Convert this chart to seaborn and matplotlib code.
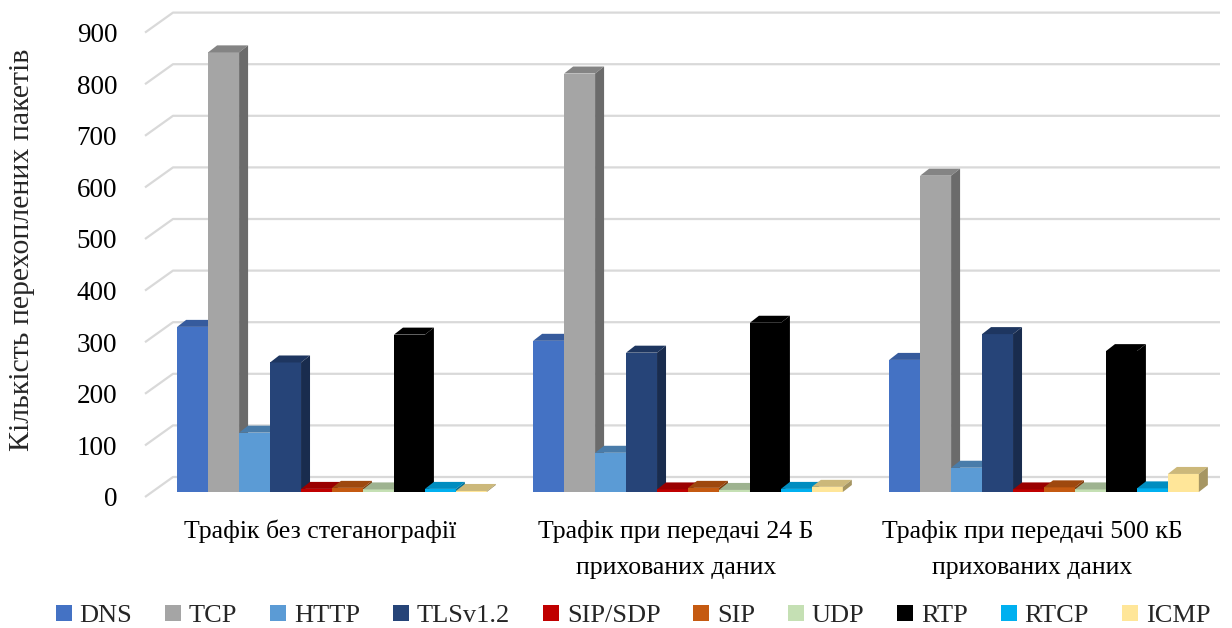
import pandas as pd
import numpy as np
import matplotlib
matplotlib.use('Agg')
import matplotlib.pyplot as plt
import matplotlib.colors as mcolors
import matplotlib.transforms as mtransforms
from matplotlib.patches import Polygon
import seaborn as sns

# data
groups = ['Трафік без стеганографії',
          'Трафік при передачі 24 Б\nприхованих даних',
          'Трафік при передачі 500 кБ\nприхованих даних']
protocols = ['DNS', 'TCP', 'HTTP', 'TLSv1.2', 'SIP/SDP', 'SIP', 'UDP', 'RTP', 'RTCP', 'ICMP']
dns = [320, 293, 256]
tcp = [852, 811, 613]
http = [115, 76, 47]
tls = [251, 270, 306]
sip_sdp = [6, 5, 5]
sip = [8, 8, 9]
udp = [5, 4, 5]
rtp = [305, 328, 273]
rtcp = [6, 6, 7]
icmp = [2, 10, 35]
colors = ['#4472C4', '#A5A5A5', '#5B9BD5', '#264478', '#C00000',
          '#C55A11', '#C5E0B4', '#000000', '#00B0F0', '#FFE699']
yticks = list(range(0, 1000, 100))

series = [dns, tcp, http, tls, sip_sdp, sip, udp, rtp, rtcp, icmp]
rows = []
for p, vals in zip(protocols, series):
    for g, v in zip(groups, vals):
        rows.append({'group': g, 'protocol': p, 'count': v})
df = pd.DataFrame(rows)

sns.set_style('white')
plt.rcParams['font.family'] = ['Liberation Serif', 'DejaVu Serif']

fig = plt.figure(figsize=(12.32, 6.28), dpi=100)
W, H = 1232, 628
ax = fig.add_axes([145 / W, (H - 492) / H, 1055 / W, (492 - 27.6) / H])

sns.barplot(data=df, x='group', y='count', hue='protocol', hue_order=protocols,
            palette=colors, width=0.87, saturation=1, errorbar=None,
            linewidth=0, ax=ax)
handles, labels = ax.get_legend_handles_labels()
ax.get_legend().remove()

ax.set_xlim((145 - 332) / 356, (1200 - 332) / 356)
ax.set_ylim(0, 900)
px_x = 1 / 356          # data units per pixel
px_y = 900 / 464.4

# fake 3d: top and side faces for every bar
dx, dy = 9 * px_x, 7 * px_y
bars = []
for cont in ax.containers:
    for r in cont:
        bars.append(r)
bars.sort(key=lambda r: r.get_x())
for i, r in enumerate(bars):
    x0, w, h = r.get_x(), r.get_width(), r.get_height()
    c = np.array(mcolors.to_rgb(r.get_facecolor()))
    z = 3 + i * 0.01
    r.set_zorder(z)
    r.set_clip_on(False)
    top = Polygon([(x0, h), (x0 + w, h), (x0 + w + dx, h + dy), (x0 + dx, h + dy)],
                  closed=True, facecolor=c * 0.8, edgecolor='none', zorder=z, clip_on=False)
    side = Polygon([(x0 + w, 0), (x0 + w + dx, dy), (x0 + w + dx, h + dy), (x0 + w, h)],
                   closed=True, facecolor=c * 0.65, edgecolor='none', zorder=z, clip_on=False)
    ax.add_patch(top)
    ax.add_patch(side)

# back wall gridlines
xa = (145 - 332) / 356
xb = xa + 28 * px_x
xc = (1220 - 332) / 356
for v in yticks:
    ax.plot([xa, xb, xc], [v - 5 * px_y, v + 15 * px_y, v + 15 * px_y],
            color='#d9d9d9', lw=1.6, zorder=0.5, clip_on=False, solid_capstyle='butt')

for s in ax.spines.values():
    s.set_visible(False)
ax.grid(False)
ax.set_yticks(yticks)
ax.set_yticklabels([str(v) for v in yticks])
ax.tick_params(axis='y', length=0, pad=20, labelsize=19.5, colors='#000000')
ax.tick_params(axis='x', length=0, pad=20, labelsize=18.5, colors='#000000')
ax.set_xticks([0, 1, 2])
ax.set_xticklabels(groups, linespacing=1.85)
ax.set_xlabel('')
ax.set_ylabel('')
off_y = mtransforms.ScaledTranslation(0, -5 / 100, fig.dpi_scale_trans)
for lab in ax.get_yticklabels():
    lab.set_transform(lab.get_transform() + off_y)
off_x = mtransforms.ScaledTranslation(-12 / 100, 0, fig.dpi_scale_trans)
for lab in ax.get_xticklabels():
    lab.set_transform(lab.get_transform() + off_x)

fig.text(22 / W, 1 - 250 / H, 'Кількість перехоплених пакетів', rotation=90,
         ha='center', va='center', fontsize=21.5)

fig.legend(handles, protocols, loc='center', bbox_to_anchor=(633 / W, 1 - 616 / H),
           ncol=10, frameon=False, handlelength=0.6, handleheight=0.6,
           handletextpad=0.3, columnspacing=1.25, fontsize=19)

fig.savefig('out.png', dpi=100)
